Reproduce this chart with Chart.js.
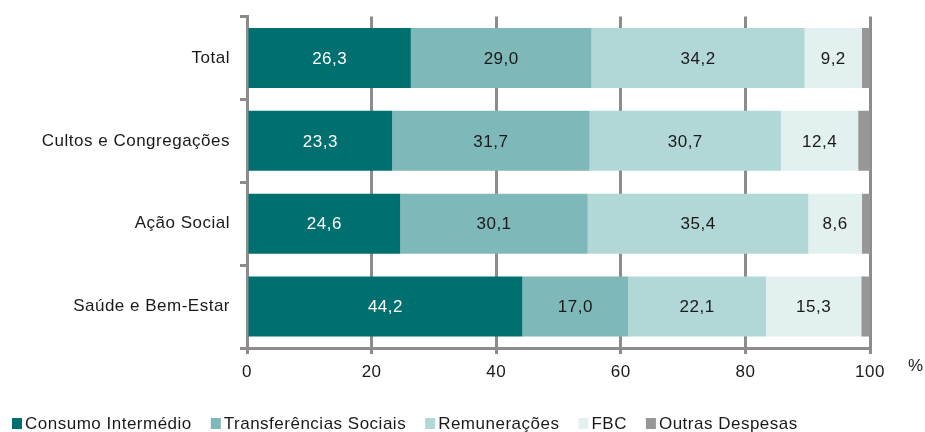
<!DOCTYPE html>
<html lang="pt">
<head>
  <meta charset="UTF-8">
  <title>Estrutura da despesa</title>
  <script src="https://cdn.jsdelivr.net/npm/chart.js"></script>
  <style>
    html, body { margin: 0; padding: 0; background: #fff; }
    .wrap { width: 925px; height: 432px; position: relative; }
  </style>
</head>
<body>
<div class="wrap">
  <canvas id="barChart" width="925" height="432"></canvas>
</div>

<script>
  // data
  const categories = ['Total', 'Cultos e Congregações', 'Ação Social', 'Saúde e Bem-Estar'];
  const seriesNames = ['Consumo Intermédio', 'Transferências Sociais', 'Remunerações', 'FBC', 'Outras Despesas'];
  const consumo = [26.3, 23.3, 24.6, 44.2];
  const transferencias = [29.0, 31.7, 30.1, 17.0];
  const remuneracoes = [34.2, 30.7, 35.4, 22.1];
  const fbc = [9.2, 12.4, 8.6, 15.3];
  const outras = [1.3, 1.9, 1.3, 1.4];
  const xTicks = [0, 20, 40, 60, 80, 100];
  const unitLabel = '%';

  const colors = ['#006f6f', '#7fb8b8', '#b2d7d7', '#e3f0f0', '#979797'];
  const gridGray = '#8c8c8c';
  const FONT = '17px "Liberation Sans", Arial, sans-serif';
  const SPACING = '0.5px';

  const seriesData = [consumo, transferencias, remuneracoes, fbc, outras];

  const spacingPlugin = {
    id: 'spacing',
    beforeDraw(chart) {
      chart.ctx.letterSpacing = SPACING;
    }
  };

  // value labels in the middle of each segment
  const valueLabels = {
    id: 'valueLabels',
    afterDatasetsDraw(chart) {
      const ctx = chart.ctx;
      ctx.save();
      ctx.letterSpacing = SPACING;
      ctx.font = FONT;
      ctx.textAlign = 'center';
      ctx.textBaseline = 'middle';
      chart.data.datasets.forEach((ds, i) => {
        if (i > 3) return;
        chart.getDatasetMeta(i).data.forEach((bar, j) => {
          const cx = (bar.x + bar.base) / 2;
          ctx.fillStyle = i === 0 ? '#ffffff' : '#1a1a1a';
          ctx.fillText(ds.data[j].toFixed(1).replace('.', ','), cx, bar.y + 1);
        });
      });
      ctx.restore();
    }
  };

  // legend + unit label drawn on the canvas
  const bottomLegend = {
    id: 'bottomLegend',
    afterDraw(chart) {
      const ctx = chart.ctx;
      ctx.save();
      ctx.letterSpacing = SPACING;
      ctx.font = FONT;
      ctx.textBaseline = 'middle';
      ctx.textAlign = 'left';
      let x = 12;
      const y = 424;
      seriesNames.forEach((name, i) => {
        ctx.fillStyle = colors[i];
        ctx.fillRect(x, 418, 10, 11);
        ctx.fillStyle = '#1a1a1a';
        ctx.fillText(name, x + 13, y);
        x += 13 + ctx.measureText(name).width + 19;
      });
      ctx.fillStyle = '#1a1a1a';
      ctx.fillText(unitLabel, 908, 366);
      ctx.restore();
    }
  };

  const ctx = document.getElementById('barChart').getContext('2d');
  const myChart = new Chart(ctx, {
    type: 'bar',
    data: {
      labels: categories,
      datasets: seriesNames.map((name, i) => ({
        label: name,
        data: seriesData[i],
        backgroundColor: colors[i],
        borderWidth: 0,
        categoryPercentage: 1,
        barPercentage: 0.725
      }))
    },
    options: {
      indexAxis: 'y',
      responsive: false,
      animation: false,
      layout: { padding: { left: 0, top: 16.5, right: 55, bottom: 46 } },
      scales: {
        x: {
          stacked: true,
          min: 0,
          max: 100,
          afterBuildTicks(scale) {
            scale.ticks = xTicks.map(v => ({ value: v }));
          },
          afterFit(scale) { scale.height = 38; },
          grid: { color: gridGray, lineWidth: 3, tickLength: 6 },
          border: { color: gridGray, width: 3 },
          ticks: { color: '#1a1a1a', font: { family: '"Liberation Sans", Arial, sans-serif', size: 17 }, padding: 8 }
        },
        y: {
          stacked: true,
          afterFit(scale) {
            scale.width = 247;
            scale.paddingTop = 0;
            scale.paddingBottom = 0;
          },
          grid: { offset: true, drawOnChartArea: false, color: gridGray, lineWidth: 3, tickLength: 7 },
          border: { color: gridGray, width: 3 },
          ticks: { color: '#1a1a1a', font: { family: '"Liberation Sans", Arial, sans-serif', size: 17 }, padding: 10 }
        }
      },
      plugins: {
        legend: { display: false },
        tooltip: { enabled: false }
      }
    },
    plugins: [spacingPlugin, valueLabels, bottomLegend]
  });
</script>
</body>
</html>
